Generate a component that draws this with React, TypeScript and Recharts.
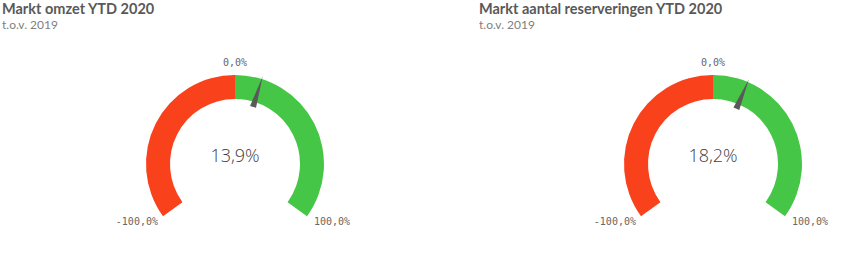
import React from "react";
import { PieChart, Pie, Cell } from "recharts";

const TITLES = ["Markt omzet YTD 2020", "Markt aantal reserveringen YTD 2020"];
const SUBTITLES = ["t.o.v. 2019", "t.o.v. 2019"];
const VALUES = [13.9, 18.2];
const SCALE_MIN = -100;
const SCALE_MID = 0;
const SCALE_MAX = 100;

const RED = "#F9411C";
const GREEN = "#46C646";
const NEEDLE = "#595959";
const LABEL = "#666666";

// arc runs from lower left, over the top, to lower right
const START_ANGLE = 216;
const END_ANGLE = -36;
const INNER = 65;
const OUTER = 89;
const RADIAN = Math.PI / 180;

const fmt = (v: number) => v.toFixed(1).replace(".", ",") + "%";

const polar = (cx: number, cy: number, r: number, angle: number) => ({
  x: cx + r * Math.cos(-angle * RADIAN),
  y: cy + r * Math.sin(-angle * RADIAN),
});

function ScaleLabel(props: any) {
  const { cx, cy, startAngle, endAngle, index } = props;
  const labelStyle = { fontFamily: "DejaVu Sans Mono", fontSize: 10, fill: LABEL };
  if (index === 0) {
    const a = polar(cx, cy, OUTER, startAngle);
    const top = polar(cx, cy, OUTER + 9, endAngle);
    return (
      <g>
        <text x={a.x - 5} y={a.y + 9} textAnchor="end" {...labelStyle}>
          {fmt(SCALE_MIN)}
        </text>
        <text x={top.x} y={top.y} textAnchor="middle" {...labelStyle}>
          {fmt(SCALE_MID)}
        </text>
      </g>
    );
  }
  const b = polar(cx, cy, OUTER, endAngle);
  return (
    <text x={b.x + 7} y={b.y + 9} textAnchor="start" {...labelStyle}>
      {fmt(SCALE_MAX)}
    </text>
  );
}

function NeedleLabel(props: any) {
  const { cx, cy, endAngle, index } = props;
  if (index !== 0) return null;
  const tip = polar(cx, cy, OUTER + 3, endAngle);
  const b1 = polar(cx, cy, INNER - 5, endAngle + 3);
  const b2 = polar(cx, cy, INNER - 5, endAngle - 3);
  return (
    <polygon
      points={`${tip.x},${tip.y} ${b1.x},${b1.y} ${b2.x},${b2.y}`}
      fill={NEEDLE}
    />
  );
}

function Gauge({ value, cx }: { value: number; cx: number }) {
  const scaleData = [
    { name: "negatief", value: SCALE_MID - SCALE_MIN },
    { name: "positief", value: SCALE_MAX - SCALE_MID },
  ];
  const needleData = [
    { name: "waarde", value: value - SCALE_MIN },
    { name: "rest", value: SCALE_MAX - value },
  ];
  const cy = 164;
  return (
    <PieChart width={420} height={261} margin={{ top: 0, right: 0, bottom: 0, left: 0 }}>
      <Pie
        data={scaleData}
        dataKey="value"
        cx={cx}
        cy={cy}
        startAngle={START_ANGLE}
        endAngle={END_ANGLE}
        innerRadius={INNER}
        outerRadius={OUTER}
        stroke="none"
        label={ScaleLabel}
        labelLine={false}
        isAnimationActive={false}
      >
        <Cell fill={RED} />
        <Cell fill={GREEN} />
      </Pie>
      <Pie
        data={needleData}
        dataKey="value"
        cx={cx}
        cy={cy}
        startAngle={START_ANGLE}
        endAngle={END_ANGLE}
        innerRadius={INNER}
        outerRadius={OUTER}
        fill="none"
        stroke="none"
        label={NeedleLabel}
        labelLine={false}
        isAnimationActive={false}
      />
      <text
        x={cx}
        y={cy - 2}
        textAnchor="middle"
        fontFamily="Open Sans"
        fontWeight={300}
        fontSize={18}
        fill="#404040"
      >
        {fmt(value)}
      </text>
    </PieChart>
  );
}

export default function App() {
  const panels = [
    { left: 0, textLeft: 2, cx: 235 },
    { left: 470, textLeft: 9, cx: 243 },
  ];
  return (
    <div
      style={{
        position: "absolute",
        left: 0,
        top: 0,
        width: 845,
        height: 261,
        background: "#fff",
        overflow: "hidden",
      }}
    >
      {panels.map((p, i) => (
        <div
          key={i}
          style={{ position: "absolute", left: p.left, top: 0, width: 420, height: 261 }}
        >
          <Gauge value={VALUES[i]} cx={p.cx} />
          <div
            style={{
              position: "absolute",
              left: p.textLeft,
              top: 0,
              lineHeight: "18px",
              fontFamily: "Lato",
              fontWeight: 700,
              fontSize: 14.5,
              color: "#595959",
              whiteSpace: "nowrap",
            }}
          >
            {TITLES[i]}
          </div>
          <div
            style={{
              position: "absolute",
              left: p.textLeft,
              top: 18,
              lineHeight: "13px",
              fontFamily: "Lato",
              fontSize: 12,
              color: "#808080",
              whiteSpace: "nowrap",
            }}
          >
            {SUBTITLES[i]}
          </div>
        </div>
      ))}
    </div>
  );
}
